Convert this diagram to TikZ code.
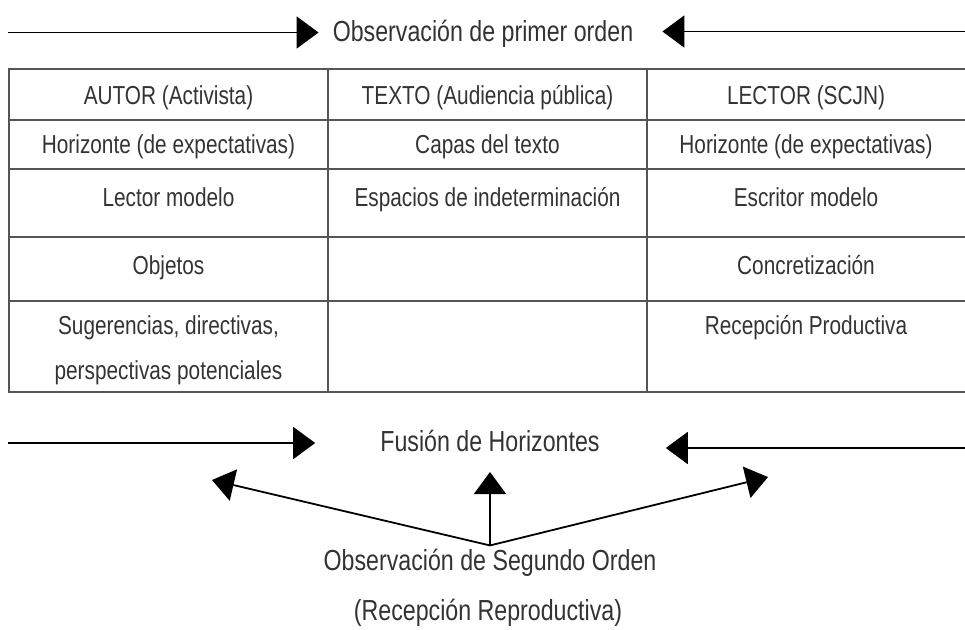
\documentclass[tikz,border=0pt]{standalone}
\usepackage{fontspec}
\setmainfont[FakeStretch=0.8]{Liberation Sans}
\usetikzlibrary{arrows.meta}
\definecolor{txt}{HTML}{333333}
\definecolor{rulecol}{HTML}{555555}
\begin{document}
\begin{tikzpicture}[x=1pt,y=-1pt,
  every node/.style={text=txt, inner sep=0pt},
  lbl/.style={anchor=base, font=\fontsize{26}{30}\selectfont},
  big/.style={anchor=base, font=\fontsize{29}{34}\selectfont},
  arr/.style={draw=black, line width=1.8pt, -{Triangle[length=22pt,width=32pt]}},
  gridline/.style={draw=rulecol, line width=1.3pt}]
\useasboundingbox (0,0) rectangle (965,629);

% top
\node[big] (top) at (483,41.5) {Observación de primer orden};
\coordinate (topL) at (8,32.5);
\coordinate (topR) at (966,31.5);
\draw[arr, shorten >=14pt] (topL) -- (topL -| top.west);
\draw[arr, shorten >=29pt] (topR) -- (topR -| top.east);

% table
\draw[gridline] (9,69) rectangle (966,392);
\foreach \yy in {120,169,237,301} \draw[gridline] (9,\yy) -- (966,\yy);
\draw[gridline] (328,69) -- (328,392);
\draw[gridline] (647,69) -- (647,392);

\node[lbl] (c11) at (168.5,104) {AUTOR (Activista)};
\node[lbl] (c12) at (487.5,104) {TEXTO (Audiencia pública)};
\node[lbl] (c13) at (806,104) {LECTOR (SCJN)};
\node[lbl] (c21) at (168.5,153.8) {Horizonte (de expectativas)};
\node[lbl] (c22) at (487.5,153.8) {Capas del texto};
\node[lbl] (c23) at (806,153.8) {Horizonte (de expectativas)};
\node[lbl] (c31) at (168.5,206.3) {Lector modelo};
\node[lbl] (c32) at (487.5,206.3) {Espacios de indeterminación};
\node[lbl] (c33) at (806,206.3) {Escritor modelo};
\node[lbl] (c41) at (168.5,274.3) {Objetos};
\node[lbl] (c43) at (806,274.3) {Concretización};
\node[lbl] (c51) at (168.5,334.3) {Sugerencias, directivas,};
\node[lbl] (c51b) at (168.5,379.3) {perspectivas potenciales};
\node[lbl] (c53) at (806,334.3) {Recepción Productiva};

% fusion
\node[big] (fus) at (490,451) {Fusión de Horizontes};
\coordinate (fusL) at (8,443);
\coordinate (fusR) at (966,448);
\draw[arr, shorten >=65pt] (fusL) -- (fusL -| fus.west);
\draw[arr, shorten >=66pt] (fusR) -- (fusR -| fus.east);

% second order
\node[big] (obs2) at (490,570) {Observación de Segundo Orden};
\node[big] (rec) at (488,620) {(Recepción Reproductiva)};
\coordinate (apex) at ([yshift=3pt]obs2.north);
\coordinate (dl) at (212,480);
\coordinate (du) at (490,472);
\coordinate (dr) at (768,477);
\draw[arr] (apex) -- (dl);
\draw[arr] (apex) -- (apex |- du);
\draw[arr] (apex) -- (dr);
\end{tikzpicture}
\end{document}
